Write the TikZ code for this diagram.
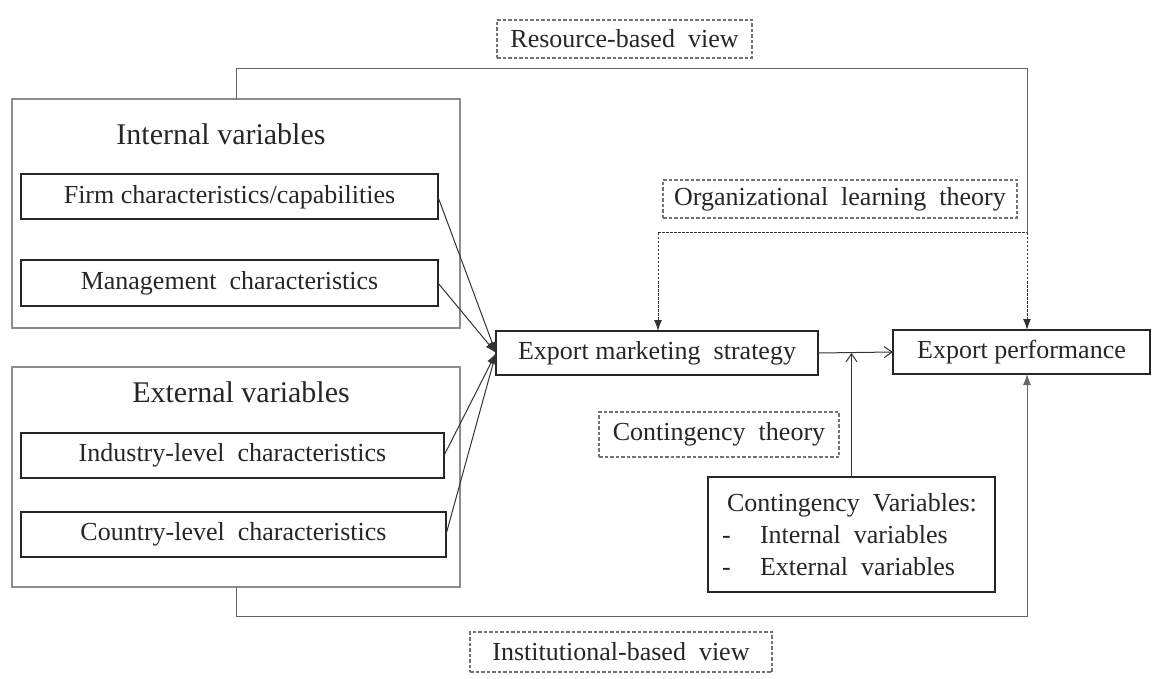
\documentclass[tikz,border=0pt]{standalone}
\usepackage{fontspec}
\setmainfont{Liberation Serif}
\usetikzlibrary{arrows.meta}
\begin{document}
\begin{tikzpicture}[x=1pt,y=-1pt,
  every node/.style={inner sep=0pt,outer sep=0pt,text=black!85},
  outerbox/.style={draw=black!45,line width=1.3pt,rectangle},
  boxfont/.style={font=\fontsize{26}{30}\selectfont},
  varbox/.style={draw=black!85,line width=2pt,rectangle,boxfont},
  theorybox/.style={draw=black!55,line width=1.1pt,dashed,dash pattern=on 3.5pt off 2pt,rectangle,boxfont},
  title/.style={font=\fontsize{30}{34}\selectfont},
  conn/.style={draw=black!80,line width=1pt},
  fil/.style={-{Latex[length=11pt,width=8pt]}},
  opn/.style={-{Straight Barb[length=8pt,width=11pt]}},
  dot/.style={dash pattern=on 2.5pt off 1.5pt}
]
\useasboundingbox (0,0) rectangle (1157,679);
% outer grouping boxes
\node[outerbox,minimum width=448pt,minimum height=229pt] (int) at (236,213.5) {};
\node[outerbox,minimum width=448pt,minimum height=220pt] (ext) at (236,477) {};
\node[title] (intT) at (221,134) {Internal variables};
\node[title] (extT) at (241,392) {External variables};
% variable boxes
\node[varbox,minimum width=417pt,minimum height=45pt] (firm) at (229.5,197) {Firm characteristics/capabilities};
\node[varbox,minimum width=417pt,minimum height=45pt] (mgmt) at (229.5,283) {Management\ \ characteristics};
\node[varbox,minimum width=423pt,minimum height=45pt] (ind) at (232.5,455.5) {Industry-level\ \ characteristics};
\node[varbox,minimum width=425pt,minimum height=45pt] (cty) at (233.5,534.5) {Country-level\ \ characteristics};
\node[varbox,minimum width=322pt,minimum height=44pt] (ems) at (657,353) {Export marketing\ \ strategy};
\node[varbox,minimum width=257pt,minimum height=44pt] (ep) at (1021.5,352) {Export performance};
\node[varbox,minimum width=287pt,minimum height=115pt] (cv) at (851.5,534.5) {};
\node[boxfont,anchor=base west] (cvt) at (727,511) {Contingency\ \ Variables:};
\node[boxfont,anchor=base west] (cvd1) at (722,543) {-};
\node[boxfont,anchor=base west] (cvi) at (760,543) {Internal\ \ variables};
\node[boxfont,anchor=base west] (cvd2) at (722,575) {-};
\node[boxfont,anchor=base west] (cve) at (760,575) {External\ \ variables};
% theory boxes
\node[theorybox,minimum width=255pt,minimum height=38pt] (rbv) at (624.5,39) {Resource-based\ \ view};
\node[theorybox,minimum width=354pt,minimum height=38pt] (olt) at (840,199) {Organizational\ \ learning\ \ theory};
\node[theorybox,minimum width=240pt,minimum height=45pt] (ct) at (719,434.5) {Contingency\ \ theory};
\node[theorybox,minimum width=302pt,minimum height=40pt] (ibv) at (621,652) {Institutional-based\ \ view};
% connectors into export marketing strategy
\draw[conn,fil] (firm.east) -- (ems.west);
\draw[conn,fil] (mgmt.east) -- (ems.west);
\draw[conn,fil] (ind.east) -- (ems.west);
\draw[conn,fil] (cty.east) -- (ems.west);
% strategy to performance
\coordinate (mid) at (ems.east -| cv.north);
\draw[conn,opn] (ems.east) -- (ep.west);
\draw[conn,opn] (cv.north) -- (mid);
% resource-based view path
\coordinate (t1) at (236,69);
\coordinate (t2) at (1027,69);
\coordinate (t3) at (1027,233);
\draw[conn,draw=black!60] (int.north) -- (t1) -- (t2) -- (t3);
% organizational learning theory dotted
\coordinate (d1) at (658,233);
\draw[conn,dot] (d1) -- (t3);
\draw[conn,dot,fil] (d1) -- (d1 |- ems.north);
\draw[conn,dot,fil] (t3) -- (t3 |- ep.north);
% institutional-based view path
\coordinate (b1) at (236,616);
\coordinate (b2) at (1027,616);
\draw[conn,draw=black!60,fil] (ext.south) -- (b1) -- (b2) -- (b2 |- ep.south);
\end{tikzpicture}
\end{document}
